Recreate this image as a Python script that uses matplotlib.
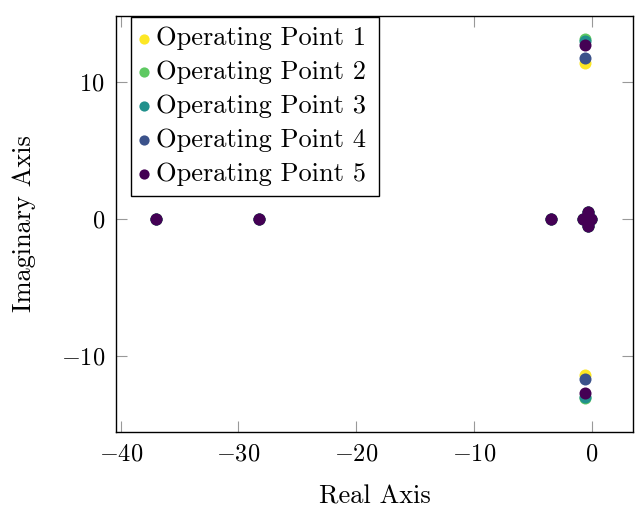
import matplotlib
matplotlib.use("Agg")
import matplotlib.pyplot as plt

plt.rcParams['font.family'] = 'serif'
plt.rcParams['font.serif'] = ['cmr10', 'DejaVu Serif']
plt.rcParams['mathtext.fontset'] = 'cm'
plt.rcParams['axes.formatter.use_mathtext'] = True

# pole locations (real, imag) for each operating point
labels = ["Operating Point 1", "Operating Point 2", "Operating Point 3",
          "Operating Point 4", "Operating Point 5"]
colors = ["#fde725", "#5ec962", "#21918c", "#3b528b", "#440154"]

common_re = [-37.0, -28.3, -3.5, -0.76, -0.34, -0.34, -0.1]
common_im = [0.0, 0.0, 0.0, 0.0, 0.5, -0.5, 0.0]

osc_re = [-0.62, -0.62, -0.62, -0.62, -0.62]
osc_im = [11.4, 13.1, 13.0, 11.7, 12.7]

fig = plt.figure(figsize=(6.37, 5.13), dpi=100)
ax = fig.add_axes([0.182, 0.158, 0.812, 0.811])

for lab, c, r, im in zip(labels, colors, osc_re, osc_im):
    xs = common_re + [r, r]
    ys = common_im + [im, -im]
    ax.scatter(xs, ys, s=75, color=c, label=lab, zorder=3, linewidths=0)

ax.set_xlim(-40.4, 3.5)
ax.set_ylim(-15.55, 14.8)
ax.set_xticks([-40, -30, -20, -10, 0])
ax.set_yticks([-10, 0, 10])
ax.tick_params(direction='in', length=8, color='#999999', top=True, right=True,
               labelsize=17.5, pad=8)
for sp in ax.spines.values():
    sp.set_linewidth(1.0)

ax.set_xlabel("Real Axis", fontsize=19, labelpad=14)
ax.set_ylabel("Imaginary Axis", fontsize=19, labelpad=18)

leg = ax.legend(loc='upper left', bbox_to_anchor=(0.029, 0.0, 0.48, 0.998),
                mode='expand', fontsize=19,
                fancybox=False, framealpha=1, edgecolor='black',
                handletextpad=0.34, handlelength=0.23, borderpad=0.38,
                labelspacing=0.38, borderaxespad=0.0, markerscale=0.85)
leg.get_frame().set_linewidth(1.0)

fig.savefig("out.png", dpi=100)
